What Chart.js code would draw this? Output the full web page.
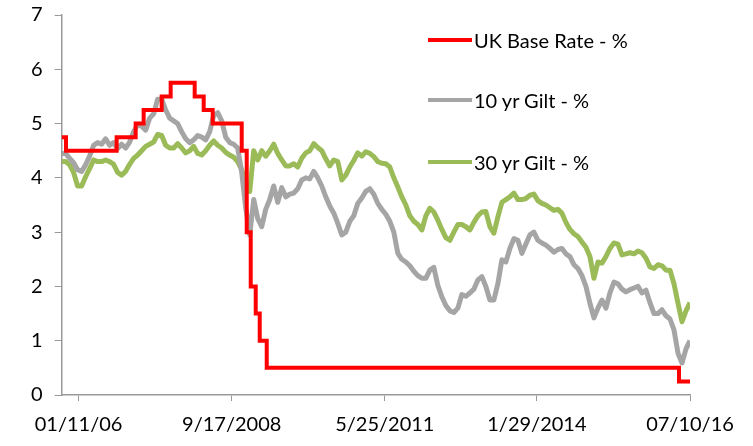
<!DOCTYPE html>
<html>
<head>
<meta charset="utf-8">
<script src="https://cdn.jsdelivr.net/npm/chart.js@4.4.0/dist/chart.umd.min.js"></script>
<style>
  body { margin: 0; background: #fff; }
  #wrap { position: relative; width: 753px; height: 446px; }
  #legend { position: absolute; left: 428px; top: 0; font-family: Lato, sans-serif; font-size: 20px; color: #000; }
  .item { position: absolute; left: 0; white-space: nowrap; display: flex; align-items: center; }
  .swatch { display: inline-block; width: 44px; height: 4px; margin-right: 2px; }
</style>
</head>
<body>
<div id="wrap">
  <canvas id="chart"></canvas>
  <div id="legend"></div>
</div>
<script>
// sample index along the x axis (one sample per step), tick labels as printed
const tickPos = [4.25, 42.5, 80.75, 118.75, 157];
const tickLabels = ["01/11/06", "9/17/2008", "5/25/2011", "1/29/2014", "07/10/16"];

// UK base rate: index where each level starts, and the level
const rateAt = [0, 1.1, 13.75, 18.5, 20.5, 25, 27.25, 33.25, 35.5, 37.75, 45, 46.25, 47.25, 48.5, 49.5, 51.25, 154.25, 157];
const rate = [4.75, 4.5, 4.75, 5.0, 5.25, 5.5, 5.75, 5.5, 5.25, 5.0, 4.5, 3.0, 2.0, 1.5, 1.0, 0.5, 0.25, 0.25];

const gilt10 = [
  4.45, 4.45, 4.36, 4.28, 4.15, 4.12, 4.24, 4.4, 4.6, 4.65,
  4.62, 4.72, 4.6, 4.65, 4.54, 4.62, 4.55, 4.66, 4.85, 4.98,
  4.95, 4.88, 5.1, 5.18, 5.45, 5.45, 5.25, 5.1, 5.05, 5.0,
  4.85, 4.72, 4.65, 4.7, 4.78, 4.75, 4.7, 4.85, 5.15, 5.2,
  5.05, 4.75, 4.65, 4.62, 4.55, 4.1, 3.45, 2.95, 3.6, 3.25,
  3.1, 3.42, 3.6, 3.85, 3.55, 3.82, 3.65, 3.7, 3.72, 3.8,
  3.96, 4.0, 3.98, 4.12, 4.0, 3.85, 3.65, 3.48, 3.35, 3.16,
  2.95, 3.0, 3.2, 3.3, 3.53, 3.63, 3.75, 3.8, 3.7, 3.53,
  3.42, 3.33, 3.2, 3.0, 2.61, 2.5, 2.45, 2.38, 2.28, 2.2,
  2.15, 2.15, 2.3, 2.35, 2.02, 1.81, 1.65, 1.55, 1.52, 1.6,
  1.85, 1.82, 1.88, 1.95, 2.12, 2.18, 2.0, 1.75, 1.75, 2.05,
  2.49, 2.45, 2.7, 2.88, 2.85, 2.61, 2.78, 2.95, 3.0, 2.85,
  2.8, 2.76, 2.7, 2.63, 2.68, 2.7, 2.6, 2.55, 2.4, 2.33,
  2.2, 2.0, 1.69, 1.42, 1.6, 1.75, 1.6, 1.88, 2.08, 2.05,
  1.95, 1.9, 1.94, 1.97, 2.0, 1.88, 1.93, 1.7, 1.5, 1.5,
  1.57, 1.46, 1.4, 1.2, 0.77, 0.59, 0.85, 1.0
];

const gilt30 = [
  4.3, 4.3, 4.24, 4.1, 3.85, 3.85, 4.02, 4.17, 4.33, 4.3,
  4.3, 4.33, 4.3, 4.25, 4.1, 4.05, 4.12, 4.25, 4.36, 4.42,
  4.5, 4.58, 4.62, 4.66, 4.8, 4.78, 4.6, 4.55, 4.55, 4.63,
  4.55, 4.46, 4.5, 4.58, 4.45, 4.42, 4.5, 4.6, 4.68, 4.6,
  4.55, 4.47, 4.42, 4.38, 4.3, 4.15, 3.9, 3.75, 4.5, 4.33,
  4.5, 4.4, 4.5, 4.62, 4.45, 4.33, 4.22, 4.22, 4.26, 4.2,
  4.36, 4.46, 4.5, 4.63, 4.56, 4.5, 4.35, 4.22, 4.33, 4.3,
  3.96, 4.05, 4.2, 4.32, 4.46, 4.4, 4.48, 4.45, 4.39, 4.3,
  4.27, 4.26, 4.2, 4.0, 3.83, 3.65, 3.5, 3.3, 3.2, 3.14,
  3.04, 3.3, 3.44, 3.37, 3.22, 3.05, 2.9, 2.85, 3.0, 3.14,
  3.14, 3.1, 3.04, 3.18, 3.3, 3.37, 3.38, 3.1, 2.98, 3.28,
  3.55, 3.6, 3.65, 3.72, 3.6, 3.6, 3.62, 3.68, 3.7, 3.58,
  3.53, 3.5, 3.45, 3.4, 3.42, 3.35, 3.18, 3.05, 2.97, 2.92,
  2.82, 2.72, 2.55, 2.15, 2.45, 2.43, 2.55, 2.7, 2.8, 2.78,
  2.58, 2.6, 2.62, 2.6, 2.65, 2.62, 2.52, 2.36, 2.33, 2.4,
  2.38, 2.3, 2.3, 2.05, 1.69, 1.35, 1.55, 1.7
];

const font = { family: "Lato, sans-serif", size: 20 };
const axisColor = "#9a9a9a";

const chart = new Chart(document.getElementById("chart"), {
  type: "line",
  data: {
    datasets: [
      {
        label: "UK Base Rate - %",
        data: rateAt.map((x, i) => ({ x: x, y: rate[i] })),
        borderColor: "#ff0000",
        borderWidth: 4,
        stepped: true,
        pointRadius: 0,
      },
      {
        label: "10 yr Gilt - %",
        data: gilt10.map((y, i) => ({ x: i, y: y })),
        borderColor: "#a5a5a5",
        borderWidth: 5,
        borderJoinStyle: "round",
        tension: 0,
        pointRadius: 0,
      },
      {
        label: "30 yr Gilt - %",
        data: gilt30.map((y, i) => ({ x: i, y: y })),
        borderColor: "#9bbb59",
        borderWidth: 5,
        borderJoinStyle: "round",
        tension: 0,
        pointRadius: 0,
      },
    ],
  },
  options: {
    responsive: true,
    maintainAspectRatio: false,
    animation: false,
    layout: { padding: { left: 19, right: 63, top: 0, bottom: -3 } },
    plugins: { legend: { display: false }, tooltip: { enabled: false } },
    scales: {
      x: {
        type: "linear",
        min: 0,
        max: 157,
        afterBuildTicks: (axis) => {
          axis.ticks = tickPos.map((v) => ({ value: v }));
        },
        ticks: {
          autoSkip: false,
          maxRotation: 0,
          padding: 12,
          font: font,
          color: "#000",
          callback: (value, index) => tickLabels[index],
        },
        grid: { drawOnChartArea: false, tickLength: 6, color: axisColor },
        border: { color: axisColor, width: 1.5 },
      },
      y: {
        min: 0,
        max: 7,
        // keep the plot top close to the "7" label, as in the source
        afterFit: (axis) => {
          axis.paddingTop = 15;
        },
        ticks: { stepSize: 1, padding: 12, font: font, color: "#000" },
        grid: { drawOnChartArea: false, tickLength: 7, color: axisColor },
        border: { color: axisColor, width: 1.5 },
      },
    },
  },
});

// legend laid over the plot, one row per series
const legend = document.getElementById("legend");
const rowTop = [28, 88, 150];
chart.data.datasets.forEach((ds, i) => {
  const row = document.createElement("div");
  row.className = "item";
  row.style.top = rowTop[i] + "px";
  row.innerHTML = '<span class="swatch" style="background:' + ds.borderColor + '"></span>' + ds.label;
  legend.appendChild(row);
});
</script>
</body>
</html>
